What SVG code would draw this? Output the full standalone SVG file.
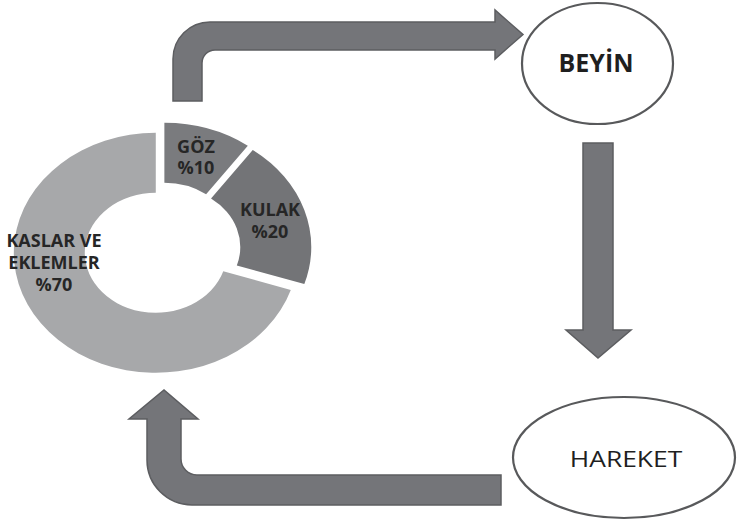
<svg xmlns="http://www.w3.org/2000/svg" width="737" height="524" viewBox="0 0 737 524">
<style>
.arrow{fill:#747579;stroke:#5c5d60;stroke-width:1.5;stroke-linejoin:miter}
.node{fill:#ffffff;stroke:#58595b;stroke-width:2.2}
.lbl{font-family:"Open Sans","DejaVu Sans",sans-serif;font-weight:bold;font-size:17px;fill:#262626;text-anchor:middle}
.big{font-family:"Open Sans","DejaVu Sans",sans-serif;text-anchor:middle;fill:#1f1f1f}
</style>
<rect width="737" height="524" fill="#ffffff"/>
<g id="chart">
  <g transform="translate(162,249) scale(1.183,1)">
    <path id="seg-kaslar" fill="#a7a8aa" d="M108.87,40.90 A120,120 0 1 1 -5.26,-116.18 L-5.26,-56.18 A60,60 0 1 0 51.80,22.36 Z"/>
    <path id="seg-goz" fill="#7a7b7e" d="M2.01,-126.18 A120,120 0 0 1 72.54,-103.26 L37.28,-54.72 A60,60 0 0 0 2.01,-66.18 Z"/>
    <path id="seg-kulak" fill="#737477" d="M76.71,-99.09 A120,120 0 0 1 120.31,35.07 L63.24,16.53 A60,60 0 0 0 41.45,-50.55 Z"/>
  </g>
  <g transform="translate(196,0) scale(1.06,1)">
    <text class="lbl" x="0" y="153">GÖZ</text>
    <text class="lbl" x="0" y="174">%10</text>
  </g>
  <g transform="translate(270,0) scale(1.06,1)">
    <text class="lbl" x="0" y="216">KULAK</text>
    <text class="lbl" x="0" y="238">%20</text>
  </g>
  <g transform="translate(54,0) scale(1.06,1)">
    <text class="lbl" x="0" y="247">KASLAR VE</text>
    <text class="lbl" x="0" y="269">EKLEMLER</text>
    <text class="lbl" x="0" y="291">%70</text>
  </g>
</g>
<g id="beyin">
  <ellipse class="node" cx="597.5" cy="63.5" rx="75.5" ry="60.5"/>
  <text class="big" x="596" y="72" font-size="25" font-weight="bold">BEYİN</text>
</g>
<g id="hareket">
  <ellipse class="node" cx="624" cy="457.5" rx="111" ry="60.5"/>
  <g transform="translate(626,467) scale(1.2,1)">
    <text class="big" x="0" y="0" font-size="22" fill="#2a2a2a">HAREKET</text>
  </g>
</g>
<g id="connectors">
  <path class="arrow" d="M173,101 L173,59 A37,37 0 0 1 210,22 L495,22 L495,10 L523,34.5 L495,59 L495,50 L215,50 A13,13 0 0 0 202,63 L202,101 Z"/>
  <path class="arrow" d="M583,143 L613,143 L613,330 L631,330 L598,358 L566,330 L583,330 Z"/>
  <path class="arrow" d="M501,475 L197,475 A16,16 0 0 1 181,459 L181,419 L198,419 L164,390 L129,419 L147,419 L147,460 A45,45 0 0 0 192,505 L501,505 Z"/>
</g>
</svg>
